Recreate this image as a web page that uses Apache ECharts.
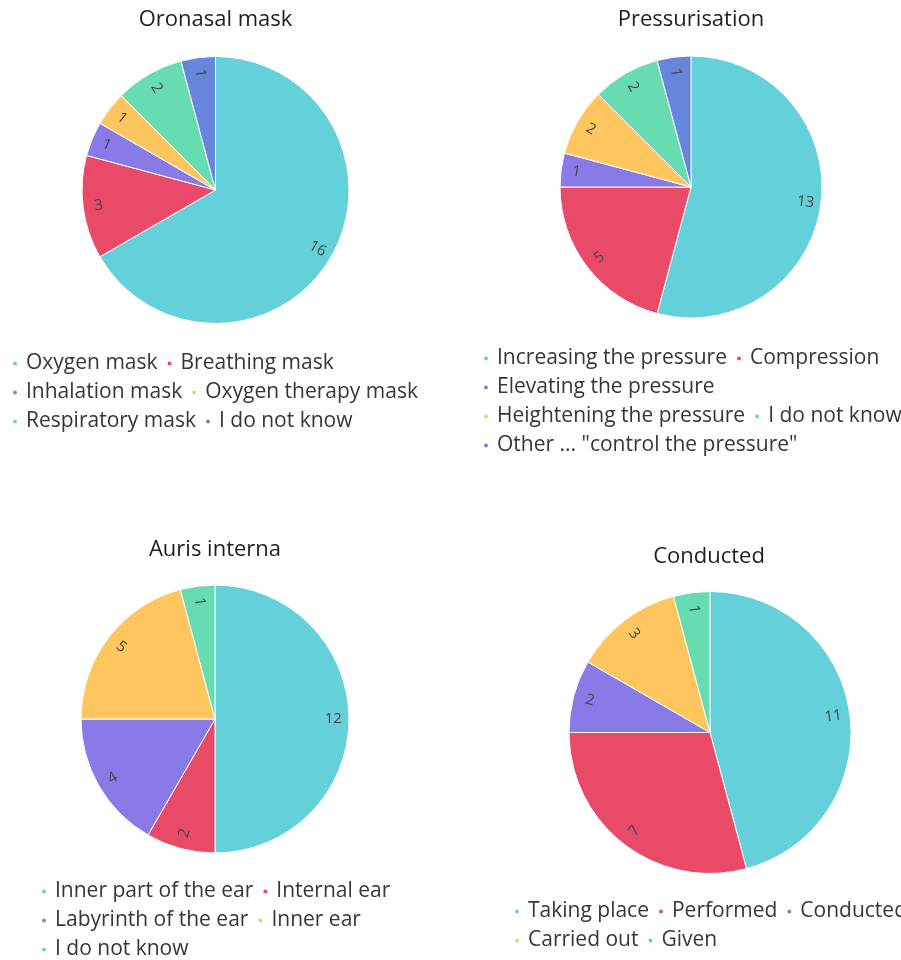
<!DOCTYPE html>
<html>
<head>
<meta charset="utf-8">
<script src="https://cdn.jsdelivr.net/npm/echarts@6/dist/echarts.min.js"></script>
<style>
  html, body { margin: 0; padding: 0; background: #fff; overflow: hidden; width: 901px; height: 960px; }
  .chart { position: absolute; }
</style>
</head>
<body>
<div id="c1" class="chart" style="left:0;top:0;width:431px;height:480px"></div>
<div id="c2" class="chart" style="left:450px;top:0;width:482px;height:480px"></div>
<div id="c3" class="chart" style="left:0;top:480px;width:430px;height:480px"></div>
<div id="c4" class="chart" style="left:450px;top:480px;width:518px;height:480px"></div>
<script>
// Survey answers per term
const oronasalNames = ['Oxygen mask', 'Breathing mask', 'Inhalation mask', 'Oxygen therapy mask', 'Respiratory mask', 'I do not know'];
const oronasalValues = [16, 3, 1, 1, 2, 1];

const pressureNames = ['Increasing the pressure', 'Compression', 'Elevating the pressure', 'Heightening the pressure', 'I do not know', 'Other ... "control the pressure"'];
const pressureValues = [13, 5, 1, 2, 2, 1];

const aurisNames = ['Inner part of the ear', 'Internal ear', 'Labyrinth of the ear', 'Inner ear', 'I do not know'];
const aurisValues = [12, 2, 4, 5, 1];

const conductedNames = ['Taking place', 'Performed', 'Conducted', 'Carried out', 'Given'];
const conductedValues = [11, 7, 2, 3, 1];

const palette = ['#64D0DA', '#E84A68', '#887BE8', '#FFC55F', '#66DCB0', '#6586DA'];
const FONT = 'Open Sans';

function drawPie(id, title, names, values, cfg) {
  const chart = echarts.init(document.getElementById(id), null, { renderer: 'canvas' });
  const data = names.map((n, i) => ({ name: n, value: values[i] }));
  chart.setOption({
    animation: false,
    color: palette,
    title: {
      text: title,
      left: 'center',
      top: cfg.titleTop,
      padding: 0,
      textStyle: { fontFamily: FONT, fontSize: 22, fontWeight: 'normal', color: '#1e1e1e' }
    },
    legend: {
      data: names,
      left: cfg.legendLeft,
      top: cfg.legendTop,
      width: cfg.legendWidth,
      padding: 0,
      icon: 'circle',
      itemWidth: 12,
      itemHeight: 6,
      itemGap: 8,
      selectedMode: false,
      textStyle: { fontFamily: FONT, fontSize: 21, color: '#363636', padding: 0 }
    },
    series: [
      {
        type: 'pie',
        center: cfg.center,
        radius: [0, cfg.r],
        startAngle: 90,
        clockwise: true,
        avoidLabelOverlap: false,
        label: { show: false },
        labelLine: { show: false },
        itemStyle: { borderColor: '#ffffff', borderWidth: 1 },
        emphasis: { disabled: true },
        data: data
      },
      {
        // label ring: places the value labels near the rim
        type: 'pie',
        center: cfg.center,
        radius: [cfg.r * 0.72, cfg.r],
        startAngle: 90,
        clockwise: true,
        silent: true,
        legendHoverLink: false,
        avoidLabelOverlap: false,
        itemStyle: { color: 'rgba(0,0,0,0)', borderWidth: 0 },
        emphasis: { disabled: true },
        label: {
          show: true,
          position: 'inside',
          rotate: 'radial',
          formatter: '{c}',
          fontFamily: FONT,
          fontSize: 15,
          color: '#454545'
        },
        labelLine: { show: false },
        data: data
      }
    ]
  });
}

drawPie('c1', 'Oronasal mask', oronasalNames, oronasalValues,
  { titleTop: 9, center: [215.5, 190], r: 133.5, legendLeft: 11, legendTop: 353, legendWidth: 430 });
drawPie('c2', 'Pressurisation', pressureNames, pressureValues,
  { titleTop: 9, center: [241, 187], r: 131, legendLeft: 32, legendTop: 348, legendWidth: 440 });
drawPie('c3', 'Auris interna', aurisNames, aurisValues,
  { titleTop: 59, center: [215, 239], r: 134, legendLeft: 40, legendTop: 401, legendWidth: 400 });
drawPie('c4', 'Conducted', conductedNames, conductedValues,
  { titleTop: 66, center: [260, 252.5], r: 141, legendLeft: 63, legendTop: 421, legendWidth: 420 });
</script>
</body>
</html>
